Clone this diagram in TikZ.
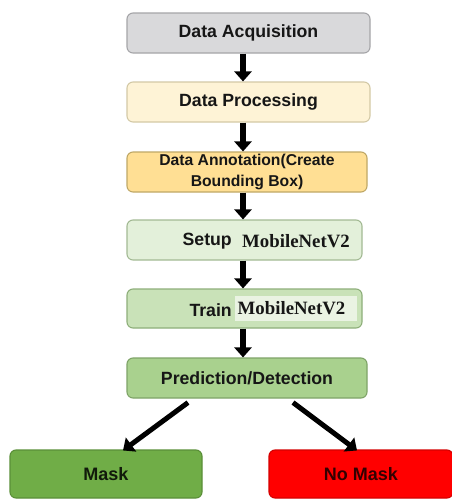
\documentclass[tikz,border=0pt]{standalone}
\usepackage{fontspec}
\setmainfont{Liberation Sans}
\newfontfamily\serifb{Liberation Serif}
\usetikzlibrary{arrows.meta,calc}
\definecolor{f1}{HTML}{D9D9DB}\definecolor{d1}{HTML}{A5A5A8}
\definecolor{f2}{HTML}{FEF3D6}\definecolor{d2}{HTML}{D3C9A6}
\definecolor{f3}{HTML}{FFDF94}\definecolor{d3}{HTML}{BFA866}
\definecolor{f4}{HTML}{E3F0DA}\definecolor{d4}{HTML}{A3BA94}
\definecolor{f5}{HTML}{C9E2B8}\definecolor{d5}{HTML}{8EAF7A}
\definecolor{f6}{HTML}{A9D18E}\definecolor{d6}{HTML}{7FA468}
\definecolor{f7}{HTML}{70AD47}\definecolor{d7}{HTML}{5A8F38}
\definecolor{f8}{HTML}{FF0000}\definecolor{d8}{HTML}{D40000}
\definecolor{txt}{HTML}{161616}
\definecolor{hl}{HTML}{EAF3E3}
\begin{document}
\begin{tikzpicture}[x=1pt,y=-1pt,
  box/.style={rounded corners=6pt,line width=1.1pt,inner sep=0pt,text=txt,
    font=\fontsize{17.7}{20}\selectfont\bfseries},
  lbl/.style={inner sep=0pt,text=txt,font=\fontsize{17.7}{20}\selectfont\bfseries},
  net/.style={inner sep=0pt,text=txt,font=\fontsize{18.8}{21}\selectfont\serifb\bfseries},
  arr/.style={line width=5.5pt,black,-{Triangle[width=17pt,length=10pt]}}]
\useasboundingbox (0,0) rectangle (452,499);
\fill[white] (0,0) rectangle (452,499);
% arrows column
\coordinate (ax) at (243,0);
% boxes
\node[box,fill=f1,draw=d1,minimum width=243pt,minimum height=40pt] (b1) at (248.5,33) {Data Acquisition};
\node[box,fill=f2,draw=d2,minimum width=243pt,minimum height=40pt] (b2) at (248.5,102) {Data Processing};
\node[box,fill=f3,draw=d3,minimum width=240pt,minimum height=40pt,align=center,
  font=\fontsize{15.7}{20.5}\selectfont\bfseries] (b3) at (247,172) {Data Annotation(Create\\Bounding Box)};
\node[box,fill=f4,draw=d4,minimum width=235pt,minimum height=40pt] (b4) at (244.5,240) {};
\node[box,fill=f5,draw=d5,minimum width=235pt,minimum height=39pt] (b5) at (244.5,308.5) {};
\node[box,fill=f6,draw=d6,minimum width=240pt,minimum height=40pt] (b6) at (247,378) {Prediction/Detection};
\node[box,fill=f7,draw=d7,minimum width=192pt,minimum height=48pt,text=black!85!f7,
  font=\fontsize{18}{20}\selectfont\bfseries] (mask) at (106,474) {Mask};
\node[box,fill=f8,draw=d8,minimum width=184pt,minimum height=48pt,text=black!80!f8,
  font=\fontsize{18}{20}\selectfont\bfseries] (nomask) at (361,474) {No Mask};
% texts inside setup / train
\node[lbl,anchor=east] (setuplbl) at (232,241) {Setup};
\node[net,anchor=west] (setupnet) at (242,241) {MobileNetV2};
\node[lbl,anchor=east] (trainlbl) at (232,310) {Train};
\node[net,anchor=west,fill=hl,minimum width=122pt,minimum height=25pt,text width=117pt,inner xsep=2.5pt] (trainnet) at (235,308) {MobileNetV2};
% connectors
\draw[arr] (b1.south -| ax) -- (b2.north -| ax);
\draw[arr] (b2.south -| ax) -- (b3.north -| ax);
\draw[arr] (b3.south -| ax) -- (b4.north -| ax);
\draw[arr] (b4.south -| ax) -- (b5.north -| ax);
\draw[arr] (b5.south -| ax) -- (b6.north -| ax);
\draw[arr,line width=5pt] ([xshift=-59pt,yshift=-4pt]b6.south) -- ([xshift=17pt,yshift=-1pt]mask.north);
\draw[arr,line width=5pt] ([xshift=46pt,yshift=-4pt]b6.south) -- ([xshift=-4pt,yshift=-1pt]nomask.north);
\end{tikzpicture}
\end{document}
